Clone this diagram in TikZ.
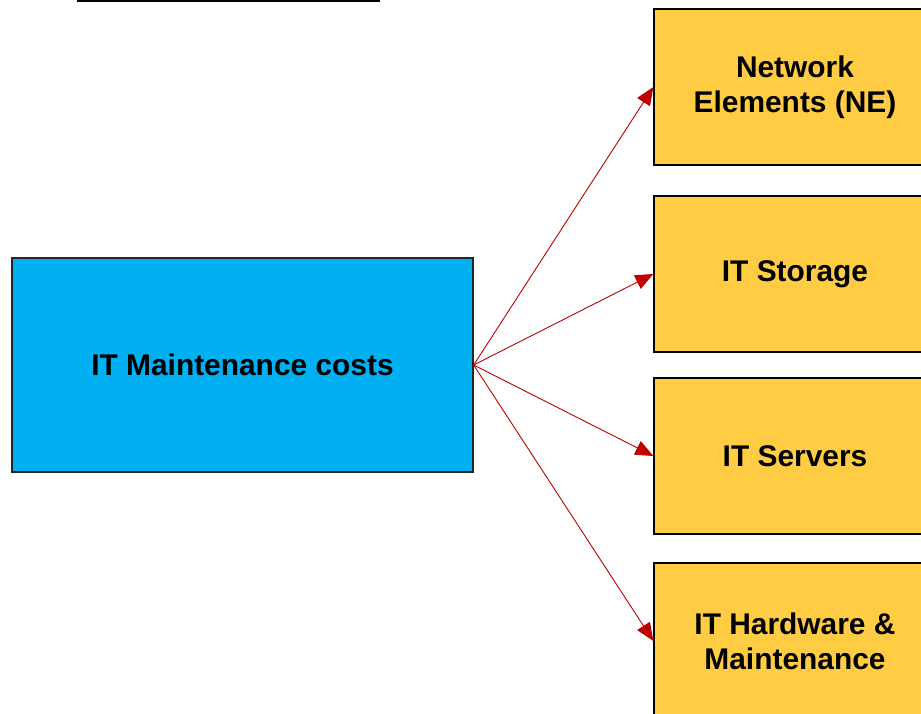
\documentclass[tikz,border=0pt]{standalone}
\usepackage{fontspec}
\setmainfont{Liberation Sans}
\usetikzlibrary{arrows.meta}
\definecolor{boxblue}{HTML}{00B0F0}
\definecolor{boxyellow}{HTML}{FFCC44}
\definecolor{arrred}{HTML}{C00000}
\begin{document}
\begin{tikzpicture}[x=1pt,y=-1pt,
  txt/.style={font=\bfseries\fontsize{29.9}{35}\selectfont, align=center, text=black},
  mainbox/.style={txt, draw=black!85, line width=1.3pt, fill=boxblue, minimum width=461pt, minimum height=214pt, inner sep=0pt},
  itembox/.style={txt, draw=black, line width=1.3pt, fill=boxyellow, minimum width=282pt, minimum height=156pt, inner sep=0pt},
  conn/.style={draw=arrred, line width=0.9pt, -{Triangle[length=18pt,width=15pt]}}]
\useasboundingbox (0,0) rectangle (921,714);
\clip (0,0) rectangle (921,714);
\fill[white] (0,0) rectangle (921,714);
\coordinate (ulA) at (77,1);
\coordinate (ulB) at (380,1);
\draw[line width=2pt] (ulA) -- (ulB);
\node[mainbox] (main) at (242.5,365) {IT Maintenance costs};
\node[itembox] (ne) at (795,87) {Network\\Elements (NE)};
\node[itembox] (st) at (795,274) {IT Storage};
\node[itembox] (sv) at (795,456) {IT Servers};
\node[itembox] (hw) at (795,641) {IT Hardware \&\\Maintenance};
\draw[conn] (main.east) -- (ne.west);
\draw[conn] (main.east) -- (st.west);
\draw[conn] (main.east) -- (sv.west);
\draw[conn] (main.east) -- (hw.west);
\end{tikzpicture}
\end{document}
